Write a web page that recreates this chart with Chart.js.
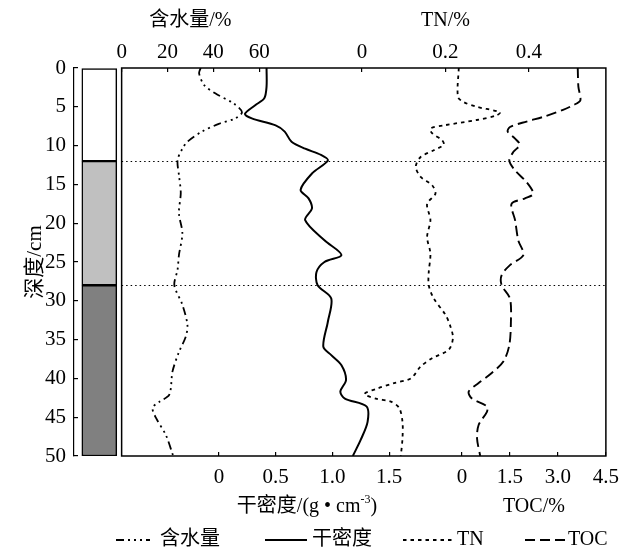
<!DOCTYPE html>
<html><head><meta charset="utf-8">
<script src="https://cdn.jsdelivr.net/npm/chart.js@4.4.1/dist/chart.umd.min.js"></script>
<style>html,body{margin:0;padding:0;background:#fff}canvas{display:block}</style>
</head><body>
<canvas id="c" width="632" height="551"></canvas>
<script>
// ---- data ----
const layerBounds = [0, 12, 28, 50];
const layerColors = ['#ffffff', '#c0c0c0', '#808080'];

const waterDepth = [0, 0.7, 2.2, 3.3, 4.6, 5.7, 6.5, 7.2, 8.2, 9.5, 10.4, 11.9, 14, 16.1, 18.7, 21.3, 24.1, 26, 28, 30.5, 33.1, 34.6, 36.6, 39.1, 42.1, 43, 43.8, 45.1, 47.3, 50];
const waterValue = [34.5, 33.8, 36, 41, 49, 52.5, 49.6, 42.4, 35, 28.7, 26.5, 24.4, 25.1, 25.8, 25, 26.5, 25, 24.4, 23, 26.5, 28.7, 28, 25, 22.2, 20.8, 16.5, 13.5, 15, 19.3, 22.5];

const densDepth = [0, 2.4, 3.9, 4.8, 5.9, 6.5, 7.4, 8.2, 9.5, 10.4, 11.2, 11.9, 13.6, 15.7, 16.8, 18.1, 19.6, 22.2, 24.1, 25, 26.3, 28, 29.7, 32.7, 35.9, 37, 38.3, 40.2, 41.7, 42.6, 43.6, 45.6, 47.9, 50];
const densValue = [0.42, 0.42, 0.40, 0.32, 0.23, 0.29, 0.50, 0.58, 0.64, 0.76, 0.90, 0.96, 0.82, 0.72, 0.79, 0.82, 0.76, 0.93, 1.08, 0.93, 0.86, 0.87, 0.99, 0.96, 0.92, 0.99, 1.08, 1.12, 1.07, 1.11, 1.30, 1.31, 1.25, 1.18];

const tnDepth = [0, 3.7, 4.4, 5, 5.7, 6.1, 6.7, 7.4, 7.8, 8.4, 9.3, 9.9, 10.6, 11.5, 12.7, 14, 15.1, 16.2, 17.5, 19.6, 21.8, 23.9, 26.3, 28, 29.7, 31.8, 33.3, 34.8, 36.3, 37.4, 38.5, 40, 40.6, 41.3, 42, 42.6, 43, 43.8, 45.6, 47.7, 50];
const tnValue = [0.232, 0.230, 0.244, 0.275, 0.331, 0.323, 0.275, 0.196, 0.164, 0.168, 0.192, 0.196, 0.172, 0.140, 0.129, 0.140, 0.168, 0.176, 0.156, 0.164, 0.156, 0.164, 0.160, 0.160, 0.172, 0.200, 0.212, 0.218, 0.208, 0.168, 0.140, 0.117, 0.077, 0.037, 0.006, 0.033, 0.069, 0.089, 0.097, 0.097, 0.093];

const tocDepth = [0, 2.4, 4.2, 4.8, 5.4, 6.3, 6.9, 7.6, 8.2, 9.1, 9.9, 10.8, 11.9, 13.2, 14.7, 16.2, 16.8, 17.5, 19.6, 22.2, 24.1, 25.4, 26.7, 28, 29.7, 32.7, 35.7, 37.8, 39.3, 40.6, 41.7, 42.6, 43.6, 44.3, 46, 47.7, 50];
const tocValue = [3.62, 3.64, 3.70, 3.47, 3.16, 2.54, 2.02, 1.50, 1.43, 1.66, 1.81, 1.61, 1.48, 1.66, 2.02, 2.23, 1.97, 1.55, 1.66, 1.76, 1.92, 1.50, 1.24, 1.24, 1.50, 1.53, 1.48, 1.30, 0.93, 0.52, 0.21, 0.31, 0.78, 0.78, 0.52, 0.47, 0.57];

const depthTicks = [0, 5, 10, 15, 20, 25, 30, 35, 40, 45, 50];
const waterTicks = [0, 20, 40, 60];
const tnTicks = [0, 0.2, 0.4];
const densTicks = [0, 0.5, 1.0, 1.5];
const tocTicks = [0, 1.5, 3.0, 4.5];

const seriesLabels = ['含水量', '干密度', 'TN', 'TOC'];
const axisTitles = {water: '含水量/%', tn: 'TN/%', dens: '干密度/(g • cm', densSup: '-3', densEnd: ')', toc: 'TOC/%', depth: '深度/cm'};

// ---- helpers ----
const FAM = '"Liberation Serif", "Noto Sans CJK SC", serif';
const pts = (d, v) => d.map((y, i) => ({x: v[i], y: y}));
const fmt1 = v => v === 0 ? '0' : v.toFixed(1);
const setTicks = arr => (scale) => { scale.ticks = arr.map(v => ({value: v})); };
const tickFont = {family: FAM, size: 21};

function xAxis(pos, stack, weight, min, max, ticks, fmt, pad, h) {
  return {
    type: 'linear', axis: 'x', position: pos, stack: stack, stackWeight: weight,
    min: min, max: max, offset: false,
    afterBuildTicks: setTicks(ticks),
    afterFit: s => { s.height = h; },
    border: {display: false},
    grid: {drawOnChartArea: false, drawTicks: true, tickLength: -4, color: '#000', lineWidth: 1.2},
    ticks: {autoSkip: false, maxRotation: 0, minRotation: 0, color: '#000', font: tickFont, padding: pad, callback: fmt}
  };
}

const decor = {
  id: 'decor',
  beforeDatasetsDraw(chart) {
    const {ctx, chartArea: ca, scales} = chart;
    const left = scales.xw.getPixelForValue(0);
    ctx.save();
    ctx.strokeStyle = '#000'; ctx.lineWidth = 1.2; ctx.setLineDash([1.5, 3]);
    layerBounds.slice(1, -1).forEach(d => {
      const y = Math.round(scales.y.getPixelForValue(d)) + 0.5;
      ctx.beginPath(); ctx.moveTo(left, y); ctx.lineTo(ca.right, y); ctx.stroke();
    });
    ctx.restore();
  },
  afterDatasetsDraw(chart) {
    const {ctx, chartArea: ca, scales} = chart;
    const left = scales.xw.getPixelForValue(0);
    ctx.save();
    ctx.strokeStyle = '#000'; ctx.lineWidth = 1.5; ctx.setLineDash([]);
    ctx.strokeRect(left, ca.top, ca.right - left, ca.bottom - ca.top);
    ctx.fillStyle = '#000'; ctx.textBaseline = 'middle'; ctx.textAlign = 'center';
    ctx.font = '20px ' + FAM;
    const mid = (s, t) => (s.getPixelForValue(t[0]) + s.getPixelForValue(t[t.length - 1])) / 2;
    ctx.fillText(axisTitles.water, mid(scales.xw, waterTicks), 21);
    ctx.fillText(axisTitles.tn, mid(scales.xtn, tnTicks), 21);
    ctx.fillText(axisTitles.toc, mid(scales.xtoc, tocTicks), 507);
    ctx.textAlign = 'left';
    const mainF = '20px ' + FAM, supF = '12px ' + FAM;
    ctx.font = mainF; const w1 = ctx.measureText(axisTitles.dens).width; const w3 = ctx.measureText(axisTitles.densEnd).width;
    ctx.font = supF; const w2 = ctx.measureText(axisTitles.densSup).width;
    let x = mid(scales.xd, densTicks) - (w1 + w2 + w3) / 2 + 3;
    ctx.font = mainF; ctx.fillText(axisTitles.dens, x, 507); x += w1;
    ctx.font = supF; ctx.fillText(axisTitles.densSup, x, 500); x += w2;
    ctx.font = mainF; ctx.fillText(axisTitles.densEnd, x, 507);
    const items = [{x0: 116, x1: 150, tx: 160}, {x0: 265, x1: 307, tx: 312}, {x0: 403, x1: 453, tx: 457}, {x0: 525, x1: 565, tx: 568}];
    const ly = 540;
    chart.data.datasets.filter(d => d.type === 'line').forEach((d, i) => {
      const it = items[i];
      ctx.strokeStyle = d.borderColor; ctx.lineWidth = d.borderWidth; ctx.setLineDash(d.borderDash || []);
      ctx.beginPath(); ctx.moveTo(it.x0, ly); ctx.lineTo(it.x1, ly); ctx.stroke();
      ctx.setLineDash([]);
      ctx.fillStyle = '#000'; ctx.font = '20px ' + FAM; ctx.textAlign = 'left';
      ctx.fillText(d.label, it.tx, ly);
    });
    ctx.restore();
  }
};

const lineDs = (label, d, v, xid, dash, w) => ({
  type: 'line', label: label, data: pts(d, v), xAxisID: xid, yAxisID: 'y', indexAxis: 'y',
  borderColor: '#000', borderWidth: w, borderDash: dash, pointRadius: 0, tension: 0.3, fill: false
});

new Chart(document.getElementById('c'), {
  type: 'line',
  data: {
    datasets: [
      {
        type: 'bar', label: 'layers', xAxisID: 'xs', yAxisID: 'y',
        data: layerColors.map((c, i) => ({x: 25.5, y: [layerBounds[i], layerBounds[i + 1]]})),
        backgroundColor: layerColors, borderColor: '#000', borderWidth: 1.5, borderSkipped: false,
        barThickness: 35, grouped: false
      },
      lineDs(seriesLabels[0], waterDepth, waterValue, 'xw', [8, 4, 2, 4, 2, 4, 2, 4], 1.8),
      lineDs(seriesLabels[1], densDepth, densValue, 'xd', [], 2),
      lineDs(seriesLabels[2], tnDepth, tnValue, 'xtn', [3.5, 4], 1.8),
      lineDs(seriesLabels[3], tocDepth, tocValue, 'xtoc', [10, 5], 1.9)
    ]
  },
  options: {
    responsive: false, animation: false, events: [],
    layout: {padding: {left: 20, right: 22, top: 0, bottom: 0}},
    plugins: {legend: {display: false}, tooltip: {enabled: false}},
    scales: {
      y: {
        type: 'linear', axis: 'y', position: 'left', reverse: true, min: 0, max: 50,
        afterBuildTicks: setTicks(depthTicks),
        afterFit: s => { s.width = 54; },
        border: {display: true, color: '#000', width: 1.2},
        grid: {drawOnChartArea: false, drawTicks: true, tickLength: -4, color: '#000', lineWidth: 1.2},
        ticks: {color: '#000', font: tickFont, padding: 12, autoSkip: false},
        title: {display: true, text: axisTitles.depth, color: '#000', font: {family: FAM, size: 21}, padding: {top: 3, bottom: 0}}
      },
      xs: {type: 'linear', axis: 'x', position: 'bottom', display: false, offset: false, min: 0, max: 536},
      xtn: xAxis('top', 'top', 280, -0.08167, 0.585, tnTicks, fmt1, 7, 68),
      xw: xAxis('top', 'top', 256, -20.779, 90.043, waterTicks, v => String(v), 7, 68),
      xd: xAxis('bottom', 'bot', 346, -1.27622, 1.74825, densTicks, fmt1, 13, 95),
      xtoc: xAxis('bottom', 'bot', 190, -1.39655, 4.5, tocTicks, fmt1, 13, 95)
    }
  },
  plugins: [decor]
});
</script>
</body></html>
